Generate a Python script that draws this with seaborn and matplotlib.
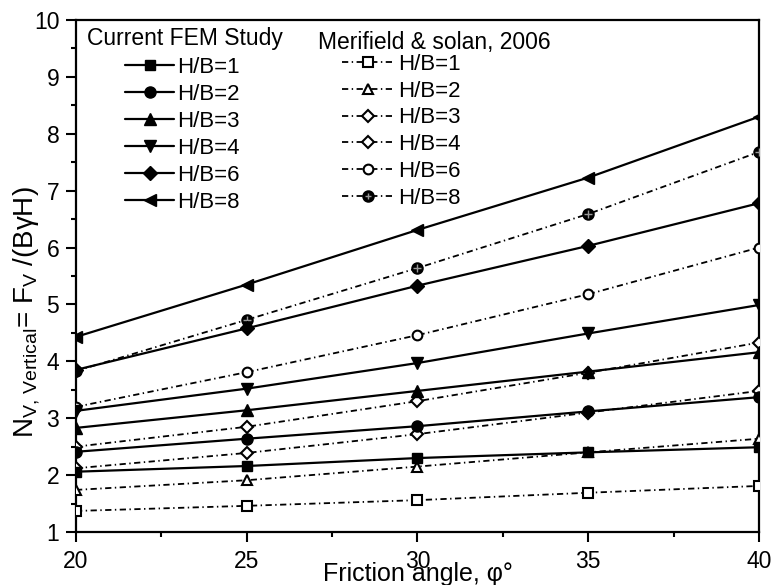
import matplotlib
matplotlib.use("Agg")
import matplotlib.pyplot as plt
from matplotlib.lines import Line2D
from matplotlib.legend_handler import HandlerTuple
from matplotlib.ticker import MultipleLocator
import seaborn as sns

# Friction angle (degrees)
phi = [20, 25, 30, 35, 40]

# Current FEM study: vertical uplift factor for each embedment ratio
fem_hb1 = [2.06, 2.16, 2.30, 2.40, 2.49]
fem_hb2 = [2.41, 2.64, 2.86, 3.12, 3.37]
fem_hb3 = [2.83, 3.14, 3.48, 3.82, 4.16]
fem_hb4 = [3.13, 3.52, 3.97, 4.49, 4.99]
fem_hb6 = [3.85, 4.58, 5.33, 6.03, 6.78]
fem_hb8 = [4.43, 5.35, 6.31, 7.23, 8.30]

# Merifield & Sloan (2006)
ms_hb1 = [1.37, 1.46, 1.56, 1.69, 1.81]
ms_hb2 = [1.74, 1.91, 2.15, 2.40, 2.64]
ms_hb3 = [2.12, 2.39, 2.72, 3.10, 3.48]
ms_hb4 = [2.50, 2.85, 3.30, 3.80, 4.33]
ms_hb6 = [3.20, 3.81, 4.46, 5.18, 6.00]
ms_hb8 = [3.83, 4.73, 5.64, 6.59, 7.68]

series_labels = ["H/B=1", "H/B=2", "H/B=3", "H/B=4", "H/B=6", "H/B=8"]
fem_series = [fem_hb1, fem_hb2, fem_hb3, fem_hb4, fem_hb6, fem_hb8]
ms_series = [ms_hb1, ms_hb2, ms_hb3, ms_hb4, ms_hb6, ms_hb8]

fem_markers = ["s", "o", "^", "v", "D", "<"]
fem_msize = [7, 8, 8.5, 8.5, 7, 8.5]
ms_markers = ["s", "^", "D", "D", "o", "o"]
ms_msize = [6.5, 7.5, 6.5, 6.5, 7, 7.5]

sns.set_style("ticks")
plt.rcParams["font.family"] = ["Liberation Sans", "DejaVu Sans"]
plt.rcParams["lines.scale_dashes"] = False
plt.rcParams["mathtext.fontset"] = "custom"
plt.rcParams["mathtext.rm"] = "Liberation Sans"
plt.rcParams["mathtext.it"] = "Liberation Sans:italic"
for key in ("text.color", "axes.labelcolor", "xtick.color", "ytick.color",
            "axes.edgecolor"):
    plt.rcParams[key] = "black"

dashdot = (0, (4.5, 2.5, 1.0, 2.5))

fig = plt.figure(figsize=(7.74, 5.85), dpi=100)
ax = fig.add_axes([0.0982, 0.0906, 0.8824, 0.8752])

# Reference study: dash-dot lines with open markers
for vals, m, ms in zip(ms_series, ms_markers, ms_msize):
    face = "black" if vals is ms_hb8 else "white"
    sns.lineplot(x=phi, y=vals, ax=ax, color="black", linewidth=1.3,
                 linestyle=dashdot, marker=m, markersize=ms,
                 markerfacecolor=face, markeredgecolor="black",
                 markeredgewidth=1.5, errorbar=None, legend=False, zorder=3)
# crossed circle for H/B=8
sns.scatterplot(x=phi, y=ms_hb8, ax=ax, marker="+", color="#9a9a9a",
                s=28, linewidth=1.0, legend=False, zorder=4)

# FEM study: solid lines with filled markers
for vals, m, ms in zip(fem_series, fem_markers, fem_msize):
    sns.lineplot(x=phi, y=vals, ax=ax, color="black", linewidth=1.6,
                 linestyle="-", marker=m, markersize=ms,
                 markerfacecolor="black", markeredgecolor="black",
                 markeredgewidth=1.0, errorbar=None, legend=False, zorder=5)

ax.set_xlim(20, 40)
ax.set_ylim(1, 10)
ax.xaxis.set_major_locator(MultipleLocator(5))
ax.xaxis.set_minor_locator(MultipleLocator(2.5))
ax.yaxis.set_major_locator(MultipleLocator(1))
ax.yaxis.set_minor_locator(MultipleLocator(0.5))
ax.tick_params(which="major", direction="out", length=7, width=1.5,
               labelsize=16.5, pad=5, color="black", labelcolor="black")
ax.tick_params(which="minor", direction="out", length=3.5, width=1.5,
               color="black")
ax.tick_params(axis="x", which="major", pad=6)
for sp in ax.spines.values():
    sp.set_linewidth(1.6)
    sp.set_color("black")

ax.set_xlabel("Friction angle, φ°", fontsize=18)
ax.xaxis.set_label_coords(0.5, -0.058)
ax.set_ylabel(r"N$_{\mathrm{V,\,Vertical}}$= F$_{\mathrm{V}}$ /(BγH)", fontsize=20)
ax.yaxis.set_label_coords(-0.05, 0.43)

# Legend handles
fem_handles = [Line2D([], [], color="black", lw=1.6, marker=m, markersize=ms,
                      markerfacecolor="black", markeredgecolor="black")
               for m, ms in zip(fem_markers, fem_msize)]
ms_handles = []
for i, (m, ms) in enumerate(zip(ms_markers, ms_msize)):
    face = "black" if i == 5 else "white"
    h = Line2D([], [], color="black", lw=1.3, linestyle=dashdot, marker=m,
               markersize=ms, markerfacecolor=face, markeredgecolor="black",
               markeredgewidth=1.5)
    if i == 5:
        cross = Line2D([], [], linestyle="none", marker="+", markersize=5,
                       markeredgecolor="#9a9a9a", markeredgewidth=1.0)
        h = (h, cross)
    ms_handles.append(h)

leg1 = ax.legend(fem_handles, series_labels, loc="upper left",
                 bbox_to_anchor=(0.072, 0.928), frameon=False, fontsize=16,
                 handlelength=2.2, handletextpad=0.15, labelspacing=0.27,
                 borderpad=0, borderaxespad=0)
ax.add_artist(leg1)
ax.legend(ms_handles, series_labels, loc="upper left",
          bbox_to_anchor=(0.389, 0.934), frameon=False, fontsize=16,
          handlelength=2.35, handletextpad=0.2, labelspacing=0.26,
          borderpad=0, borderaxespad=0,
          handler_map={tuple: HandlerTuple(ndivide=1, pad=0)})

ax.text(0.016, 0.963, "Current FEM Study", transform=ax.transAxes,
        fontsize=16.5, ha="left", va="center")
ax.text(0.354, 0.957, "Merifield & solan, 2006", transform=ax.transAxes,
        fontsize=16.5, ha="left", va="center")

fig.savefig("out.png", dpi=100)
